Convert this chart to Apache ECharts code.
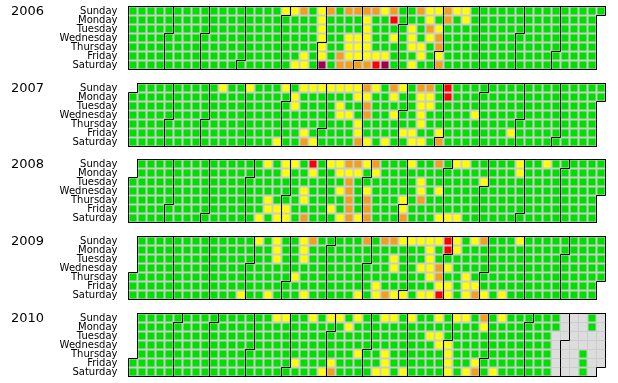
<!DOCTYPE html>
<html>
<head>
<meta charset="utf-8">
<script src="https://cdn.jsdelivr.net/npm/echarts@6/dist/echarts.min.js"></script>
<style>
html,body{margin:0;padding:0;background:#fff;}
#chart{width:618px;height:383px;}
</style>
</head>
<body>
<div id="chart"></div>
<script>
// Level per day: 0 green, 1 yellow, 2 orange, 3 red, 4 dark red, '-' no data.
// One string per weekday row (Sunday..Saturday), one character per week column (53 weeks), spaces ignored.
const years = [2006, 2007, 2008, 2009, 2010];
const dayNames = ['Sunday', 'Monday', 'Tuesday', 'Wednesday', 'Thursday', 'Friday', 'Saturday'];
const levelColors = ['#00e000', '#ffff00', '#f0a01a', '#ff0000', '#a0004a'];

const levels2006 = [
  '0000000000 0000000112 0120222212 0021121100 0000000000 000',
  '0000000000 0000000000 0100001003 0001020100 0000000000 000',
  '0000000000 0000000000 0100001000 0102100000 0000000000 000',
  '0000000000 0000000000 0100111001 0101200000 0000000000 000',
  '0000000000 0000000000 0100111000 0110200000 0000000000 000',
  '0000000000 0000000001 0102111110 0010100000 0000000000 000',
  '0000000000 0000000011 0402222340 0100200000 0000000000 000'
];
const levels2007 = [
  '0000000000 1001000101 1111112102 1022030000 0000000000 000',
  '0000000000 0000000010 0000011001 0011030000 0000000000 000',
  '0000000000 0000000010 0001002000 0011000000 0000000000 000',
  '0000000000 0000000000 0001102001 0010000010 0000000000 000',
  '0000000000 0000000000 0000010000 0010000000 0000000000 000',
  '0000000000 0000000001 0000010000 1100100000 0010000000 000',
  '0000000000 0000001002 1000021010 0110200000 0000000000 000'
];
const levels2008 = [
  '0000000000 0000010110 3011221200 0100201100 0001001000 000',
  '0000000000 0000000100 1001110100 0000000000 0001000000 000',
  '0000000000 0000000000 0000200000 0010000001 0000000000 000',
  '0000000000 0000000001 0001201000 0010100000 0000000000 000',
  '0000000000 0000010001 0000202000 1020000000 0000000000 000',
  '0000000000 0000011100 0010202000 1000000000 0000000000 000',
  '0000000000 0000101102 0001212000 2000111000 0000000000 000'
];
const levels2009 = [
  '0000000000 0000101001 2000002022 1111131012 0001000000 000',
  '0000000000 0000001001 0000000000 0001031000 0000000000 000',
  '0000000000 0000001001 0000000001 0001000000 0000000000 000',
  '0000000000 0000000000 0000000001 0011210000 0000000000 000',
  '0000000000 0000000010 0000000000 0001200100 0000000000 000',
  '0000000000 0000000000 0000000100 0000110110 0000000000 000',
  '0000000000 0010010001 0000010121 1011310121 0100000000 000'
];
const levels2010 = [
  '0000000000 0000001100 1011010011 0100101102 01000000-- -0-',
  '0000000000 0000000000 0000100000 0000000001 00000000-- -0-',
  '0000000000 0000000000 0000000000 0001100000 0000000--- ---',
  '0000000000 0000000000 0000000000 0000110000 0000000--- ---',
  '0000000000 0000000000 0000010010 0000010000 0000000--- 0--',
  '0000000000 0000000010 0010000010 0000010010 0000000--- 0--',
  '0000000000 0000000000 0120000110 1000010120 1000000--- 0--'
];
const levelsByYear = [levels2006, levels2007, levels2008, levels2009, levels2010];

function pad(n) { return (n < 10 ? '0' : '') + n; }
function buildData(year, rows) {
  const jan1 = Date.UTC(year, 0, 1);
  const dow = new Date(jan1).getUTCDay();
  const out = [];
  rows.forEach(function (rowStr, r) {
    const s = rowStr.replace(/\s+/g, '');
    for (let c = 0; c < s.length; c++) {
      const ch = s[c];
      if (ch === '-') continue;
      const d = new Date(jan1 + (c * 7 + r - dow) * 86400000);
      if (d.getUTCFullYear() !== year) continue;
      out.push([d.getUTCFullYear() + '-' + pad(d.getUTCMonth() + 1) + '-' + pad(d.getUTCDate()), +ch]);
    }
  });
  return out;
}

const calTops = [6.5, 83.5, 159.5, 236.5, 313.5];
const font = '"DejaVu Sans", sans-serif';

const chart = echarts.init(document.getElementById('chart'), null, { renderer: 'canvas' });
chart.setOption({
  backgroundColor: '#ffffff',
  animation: false,
  visualMap: {
    type: 'piecewise',
    show: false,
    seriesIndex: years.map(function (y, i) { return i; }),
    pieces: levelColors.map(function (c, i) { return { value: i, color: c }; })
  },
  calendar: years.map(function (y, i) {
    return {
      orient: 'horizontal',
      range: String(y),
      left: 128.5,
      top: calTops[i],
      cellSize: [9, 9],
      itemStyle: { color: '#dddddd', borderColor: '#cccccc', borderWidth: 1 },
      splitLine: { show: true, lineStyle: { color: '#000000', width: 1 } },
      dayLabel: {
        show: true, firstDay: 0, nameMap: dayNames, position: 'start', margin: 11,
        fontSize: 10, fontFamily: font, color: '#000000'
      },
      monthLabel: { show: false },
      yearLabel: { show: false }
    };
  }),
  graphic: years.map(function (y, i) {
    return {
      type: 'text', left: 11, top: Math.floor(calTops[i]) - 1,
      style: { text: String(y), font: '13px ' + font, fill: '#000000' }
    };
  }),
  series: years.map(function (y, i) {
    return {
      type: 'heatmap',
      coordinateSystem: 'calendar',
      calendarIndex: i,
      itemStyle: { borderColor: '#cccccc', borderWidth: 1 },
      data: buildData(y, levelsByYear[i])
    };
  })
});
</script>
</body>
</html>
